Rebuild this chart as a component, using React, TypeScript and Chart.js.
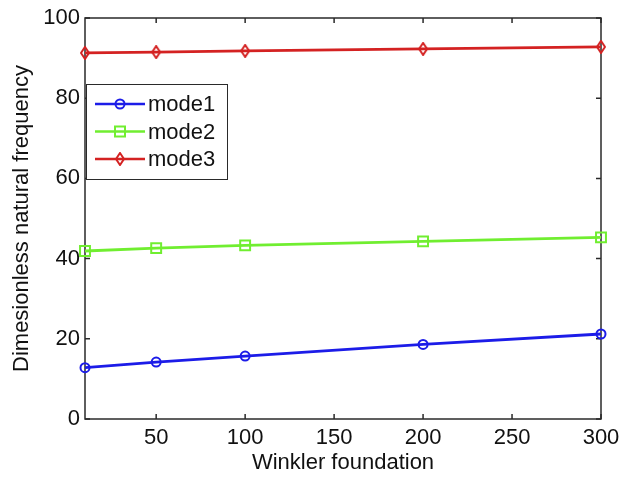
import React, { useEffect, useRef } from 'react';
import { Chart, registerables } from 'chart.js';

Chart.register(...registerables);

const xValues = [10, 50, 100, 200, 300];
const mode1 = [12.8, 14.2, 15.7, 18.6, 21.2];
const mode2 = [41.9, 42.6, 43.3, 44.3, 45.3];
const mode3 = [91.3, 91.5, 91.8, 92.3, 92.8];
const seriesLabels = ['mode1', 'mode2', 'mode3'];
const seriesColors = ['#1c1ce8', '#70ee30', '#d42222'];
const xTicks = [50, 100, 150, 200, 250, 300];
const yTicks = [0, 20, 40, 60, 80, 100];
const xTitle = 'Winkler foundation';
const yTitle = 'Dimesionless natural frequency';

const FONT = '"Liberation Sans", Arial, Helvetica, sans-serif';

function makeDiamond(color: string): HTMLCanvasElement {
  const c = document.createElement('canvas');
  c.width = 10;
  c.height = 14;
  const g = c.getContext('2d')!;
  g.strokeStyle = color;
  g.lineWidth = 2;
  g.beginPath();
  g.moveTo(5, 1);
  g.lineTo(9, 7);
  g.lineTo(5, 13);
  g.lineTo(1, 7);
  g.closePath();
  g.stroke();
  return c;
}

function drawMarker(ctx: CanvasRenderingContext2D, kind: number, x: number, y: number, color: string, diamond: HTMLCanvasElement) {
  ctx.save();
  ctx.strokeStyle = color;
  ctx.lineWidth = 2;
  if (kind === 0) {
    ctx.beginPath();
    ctx.arc(x, y, 4.5, 0, Math.PI * 2);
    ctx.stroke();
  } else if (kind === 1) {
    ctx.strokeRect(x - 5, y - 5, 10, 10);
  } else {
    ctx.drawImage(diamond, x - diamond.width / 2, y - diamond.height / 2);
  }
  ctx.restore();
}

export default function App() {
  const ref = useRef<HTMLCanvasElement | null>(null);

  useEffect(() => {
    if (!ref.current) return;
    const diamond = makeDiamond(seriesColors[2]);
    const series = [mode1, mode2, mode3];

    const framePlugin = {
      id: 'frame',
      beforeDatasetsDraw(chart: any) {
        const { ctx, chartArea: a, scales } = chart;
        ctx.save();
        ctx.strokeStyle = '#2a2a2a';
        ctx.lineWidth = 1.5;
        ctx.strokeRect(a.left, a.top, a.right - a.left, a.bottom - a.top);
        ctx.beginPath();
        for (const t of scales.x.ticks) {
          const px = scales.x.getPixelForValue(t.value);
          ctx.moveTo(px, a.bottom);
          ctx.lineTo(px, a.bottom - 5);
          ctx.moveTo(px, a.top);
          ctx.lineTo(px, a.top + 5);
        }
        for (const t of scales.y.ticks) {
          const py = scales.y.getPixelForValue(t.value);
          ctx.moveTo(a.left, py);
          ctx.lineTo(a.left + 5, py);
          ctx.moveTo(a.right, py);
          ctx.lineTo(a.right - 5, py);
        }
        ctx.stroke();
        ctx.restore();
      },
      afterDatasetsDraw(chart: any) {
        const { ctx, chartArea: a } = chart;
        const bx = a.left + 1;
        const by = a.top + 66;
        const bw = 141;
        const bh = 95;
        ctx.save();
        ctx.fillStyle = '#ffffff';
        ctx.fillRect(bx, by, bw, bh);
        ctx.strokeStyle = '#2a2a2a';
        ctx.lineWidth = 1;
        ctx.strokeRect(bx + 0.5, by + 0.5, bw, bh);
        ctx.font = `22px ${FONT}`;
        ctx.textBaseline = 'middle';
        ctx.fillStyle = '#111';
        chart.data.datasets.forEach((ds: any, i: number) => {
          const y = by + 20 + i * 27.5;
          ctx.strokeStyle = ds.borderColor;
          ctx.lineWidth = 2.5;
          ctx.beginPath();
          ctx.moveTo(bx + 9, y);
          ctx.lineTo(bx + 59, y);
          ctx.stroke();
          drawMarker(ctx, i, bx + 34, y, ds.borderColor, diamond);
          ctx.fillStyle = '#111';
          ctx.fillText(ds.label, bx + 62, y + 1);
        });
        ctx.restore();
      },
    };

    const chart = new Chart(ref.current, {
      type: 'line',
      data: {
        datasets: series.map((vals, i) => ({
          label: seriesLabels[i],
          data: xValues.map((x, j) => ({ x, y: vals[j] })),
          borderColor: seriesColors[i],
          backgroundColor: 'rgba(0,0,0,0)',
          borderWidth: 2.8,
          pointStyle: i === 0 ? 'circle' : i === 1 ? 'rect' : diamond,
          pointRadius: i === 1 ? 7 : 4.5,
          pointBorderWidth: 2,
          pointBorderColor: seriesColors[i],
          pointBackgroundColor: 'rgba(0,0,0,0)',
          clip: false as any,
          tension: 0,
        })),
      },
      options: {
        animation: false,
        responsive: false,
        layout: { padding: { top: 18, right: 19, left: 0, bottom: 0 } },
        plugins: { legend: { display: false }, tooltip: { enabled: false } },
        scales: {
          x: {
            type: 'linear',
            min: 10,
            max: 300,
            grid: { display: false, drawTicks: false },
            border: { display: false },
            afterBuildTicks: (s: any) => { s.ticks = xTicks.map((v) => ({ value: v })); },
            afterFit: (s: any) => {
              s.height = 58;
              s.paddingLeft = 0; s.paddingRight = 0; s.paddingTop = 0; s.paddingBottom = 0;
            },
            ticks: { color: '#111', font: { family: FONT, size: 22 }, padding: 6, maxRotation: 0 },
            title: { display: true, text: xTitle, color: '#111', font: { family: FONT, size: 22 }, padding: { top: 0, bottom: 1 } },
          },
          y: {
            type: 'linear',
            min: 0,
            max: 100,
            grid: { display: false, drawTicks: false },
            border: { display: false },
            afterBuildTicks: (s: any) => { s.ticks = yTicks.map((v) => ({ value: v })); },
            afterFit: (s: any) => {
              s.width = 85;
              s.paddingLeft = 0; s.paddingRight = 0; s.paddingTop = 0; s.paddingBottom = 0;
            },
            ticks: { color: '#111', font: { family: FONT, size: 22 }, padding: 5 },
            title: { display: true, text: yTitle, color: '#111', font: { family: FONT, size: 22 }, padding: { top: 9, bottom: 0 } },
          },
        },
      },
      plugins: [framePlugin],
    });
    return () => chart.destroy();
  }, []);

  return (
    <div style={{ position: 'fixed', left: 0, top: 0, width: 620, height: 477, background: '#fff' }}>
      <canvas ref={ref} width={620} height={477} style={{ width: 620, height: 477, display: 'block' }} />
    </div>
  );
}
